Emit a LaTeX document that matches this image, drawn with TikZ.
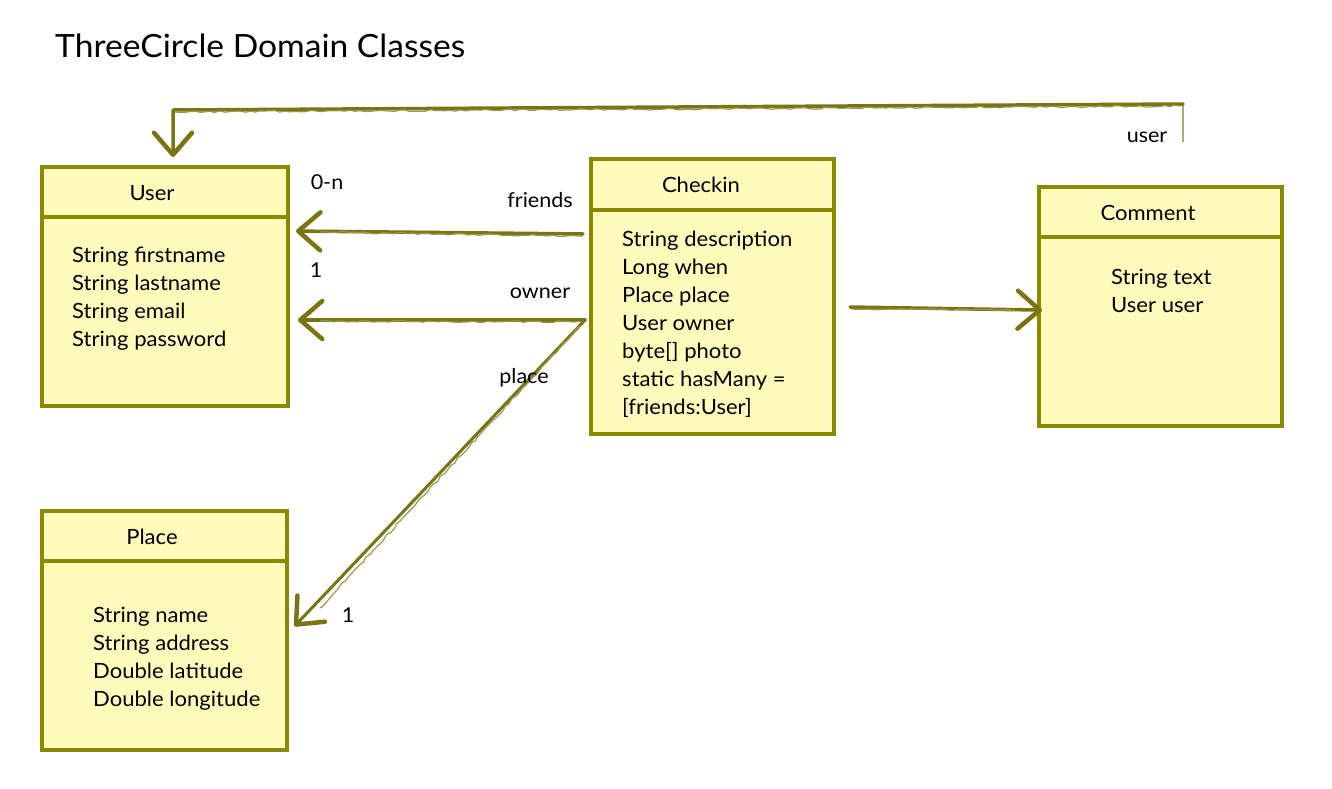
\documentclass[tikz,border=0pt]{standalone}
\usepackage{fontspec}
\setmainfont[FakeStretch=1.05]{Lato}
\usetikzlibrary{arrows.meta,decorations.pathmorphing}
\definecolor{boxline}{RGB}{140,136,0}
\definecolor{boxfill}{RGB}{255,251,186}
\definecolor{arrowc}{RGB}{122,116,18}
\tikzset{
  classbox/.style={draw=boxline, fill=boxfill, line width=4pt, rectangle, inner sep=0pt},
  divider/.style={draw=boxline, line width=4pt},
  ctitle/.style={font=\fontsize{21}{24}\selectfont, anchor=base, inner sep=0pt},
  attrs/.style={font=\fontsize{21}{28}\selectfont, align=left, anchor=base west, inner sep=0pt},
  lbl/.style={font=\fontsize{20.5}{24}\selectfont, anchor=base, inner sep=0pt},
  conn/.style={draw=arrowc, line width=3.5pt, line cap=round, line join=round},
  rough/.style={draw=arrowc!75, line width=1.2pt, decorate, decoration={random steps, segment length=5pt, amplitude=0.9pt}},
  tipv/.style={-{Straight Barb[length=22pt,width=38pt,line width=4.5pt,round]}},
}
\begin{document}
\begin{tikzpicture}[x=1pt,y=-1pt]
\pgfmathsetseed{7}
\useasboundingbox (0,0) rectangle (1332,788);

% title
\node[font=\fontsize{32}{36}\selectfont, anchor=base west, inner sep=0pt] (maintitle) at (55,57) {ThreeCircle Domain Classes};

% User (multi-line nodes: base = baseline of the last line)
\node[classbox, minimum width=246pt, minimum height=239pt] (user) at (165,286.5) {};
\draw[divider] (user.west |- 0,217) -- (user.east |- 0,217);
\node[ctitle] (userT) at (152,200) {User};
\node[attrs] (userA) at (72,346) {String firstname\\String lastname\\String email\\String password};

% Checkin
\node[classbox, minimum width=243pt, minimum height=275pt] (checkin) at (712.5,296.5) {};
\draw[divider] (checkin.west |- 0,210) -- (checkin.east |- 0,210);
\node[ctitle] (checkinT) at (701,192) {Checkin};
\node[attrs] (checkinA) at (622,414) {String description\\Long when\\Place place\\User owner\\byte[] photo\\static hasMany =\\{[friends:User]}};

% Comment
\node[classbox, minimum width=243pt, minimum height=239pt] (comment) at (1160.5,306.5) {};
\draw[divider] (comment.west |- 0,237) -- (comment.east |- 0,237);
\node[ctitle] (commentT) at (1148,220) {Comment};
\node[attrs] (commentA) at (1111,312) {String text\\User user};

% Place
\node[classbox, minimum width=245pt, minimum height=239pt] (place) at (164.5,630.5) {};
\draw[divider] (place.west |- 0,561) -- (place.east |- 0,561);
\node[ctitle] (placeT) at (152,544) {Place};
\node[attrs] (placeA) at (93,706) {String name\\String address\\Double latitude\\Double longitude};

% connector points
\coordinate (ownerstart) at (585,320);
\coordinate (commentstart) at (850,307);
\coordinate (userstart) at (1183,142);
\coordinate (usercornerR) at (1183,104);
\coordinate (usercornerL) at (173,110);

% friends
\draw[conn, tipv, shorten <=6pt, shorten >=6pt] (checkin.west |- 0,234) -- (user.east |- 0,231);
\draw[rough] (583,236) -- (320,232);
\node[lbl] (friendsL) at (540,207) {friends};
\node[lbl] (zeroN) at (327,189) {0-n};

% owner
\draw[conn, tipv, shorten >=8pt] (ownerstart) -- (user.east |- 0,320);
\draw[rough] (583,322) -- (320,321);
\node[lbl] (ownerL) at (540,298) {owner};
\node[lbl] (oneOwner) at (316,277) {1};

% place
\draw[conn, line width=3pt, tipv, shorten >=8pt] (ownerstart) -- (place.east |- 0,632);
\draw[rough] (580,326) -- (320,608);
\node[lbl] (placeL) at (524,383) {place};
\node[lbl] (onePlace) at (348,622) {1};

% checkin -> comment
\draw[conn, tipv, shorten >=-5pt] (commentstart) -- (comment.west |- 0,310);
\draw[rough] (852,309) -- (1015,310);

% comment user -> User
\draw[draw=arrowc!60, line width=1.5pt] (userstart) -- (usercornerR);
\draw[conn, tipv, shorten >=8pt] (usercornerR) -- (usercornerL) -- (usercornerL |- user.north);
\draw[rough] (1180,106) -- (175,112);
\node[lbl] (userL) at (1147,142) {user};
\end{tikzpicture}
\end{document}
